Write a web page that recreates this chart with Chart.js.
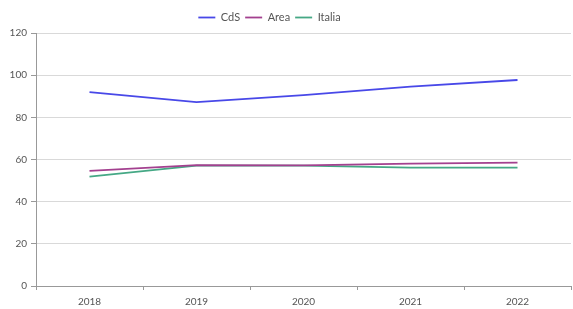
<!DOCTYPE html>
<html>
<head>
<meta charset="utf-8">
<script src="https://cdn.jsdelivr.net/npm/chart.js@4"></script>
<style>
	html, body { margin: 0; padding: 0; background: #fff; }
	#wrap { width: 573px; height: 309px; position: relative; }
</style>
</head>
<body>
<div id="wrap"><canvas id="chart"></canvas></div>
<script>
const years = ['2018', '2019', '2020', '2021', '2022'];
const cds = [92.0, 87.2, 90.5, 94.6, 97.7];
const area = [54.6, 57.3, 57.2, 58.0, 58.5];
const italia = [51.9, 57.1, 57.1, 56.1, 56.1];
const yTicks = [0, 20, 40, 60, 80, 100, 120];

const fontFamily = 'Lato, "Open Sans", sans-serif';
const textColor = '#555';
const gridColor = '#d9d9d9';
const axisColor = '#999';

// move the legend a bit left, as in the reference
const legendShift = {
	id: 'legendShift',
	beforeDraw(chart) {
		if (chart.legend) {
			chart.legend.left = -17;
			chart.legend.right = chart.width - 17;
		}
	}
};

function makeSet(label, data, color) {
	return {
		label: label,
		data: data,
		borderColor: color,
		backgroundColor: color,
		borderWidth: 1.8,
		pointRadius: 0,
		pointHoverRadius: 0,
		tension: 0,
		fill: false,
	};
}

new Chart(document.getElementById('chart'), {
	type: 'line',
	data: {
		labels: years,
		datasets: [
			makeSet('CdS', cds, '#4848e8'),
			makeSet('Area', area, '#a3408f'),
			makeSet('Italia', italia, '#45a885'),
		],
	},
	options: {
		responsive: true,
		maintainAspectRatio: false,
		animation: false,
		layout: {
			padding: {left: 0, right: 2, top: 7, bottom: 0},
		},
		plugins: {
			legend: {
				position: 'top',
				labels: {
					usePointStyle: true,
					pointStyle: 'line',
					pointStyleWidth: 17,
					boxHeight: 11,
					padding: 5,
					color: textColor,
					font: {family: fontFamily, size: 11},
				},
			},
			tooltip: {enabled: false},
		},
		scales: {
			x: {
				offset: true,
				afterFit(scale) { scale.height = 23; },
				grid: {
					offset: true,
					drawOnChartArea: false,
					drawTicks: true,
					tickLength: 4,
					tickColor: axisColor,
				},
				border: {color: axisColor, width: 1},
				ticks: {
					padding: 6,
					color: textColor,
					font: {family: fontFamily, size: 10},
				},
			},
			y: {
				min: 0,
				max: 120,
				afterFit(scale) { scale.width = 36; },
				afterBuildTicks(scale) {
					scale.ticks = yTicks.map(v => ({value: v}));
				},
				grid: {
					color: gridColor,
					tickColor: axisColor,
					tickLength: 5,
				},
				border: {color: axisColor, width: 1},
				ticks: {
					padding: 4,
					color: textColor,
					font: {family: fontFamily, size: 10},
				},
			},
		},
	},
	plugins: [legendShift],
});
</script>
</body>
</html>
